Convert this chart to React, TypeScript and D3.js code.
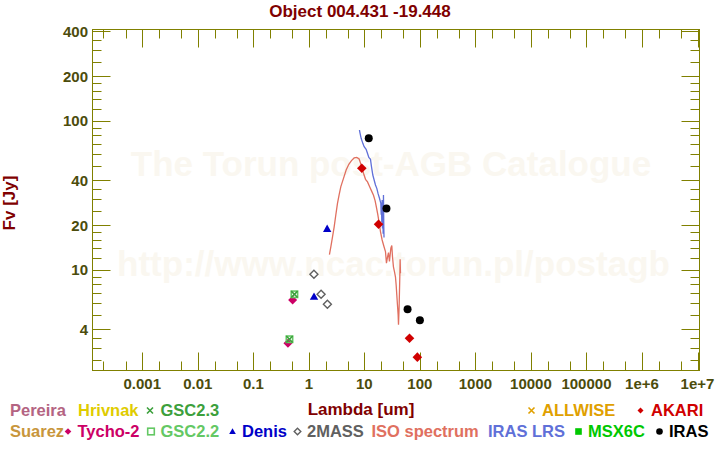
import React from "react";
import * as d3 from "d3";

// ---------- data ----------
const chartTitle = "Object 004.431 -19.448";
const xAxisTitle = "Lambda [um]";
const yAxisTitle = "Fv [Jy]";
const watermarkLines = ["The Torun post-AGB Catalogue", "http://www.ncac.torun.pl/postagb"];

const xTickValues = [0.001, 0.01, 0.1, 1, 10, 100, 1000, 10000, 100000, 1e6, 1e7];
const xTickLabels = ["0.001", "0.01", "0.1", "1", "10", "100", "1000", "10000", "100000", "1e+6", "1e+7"];
const xMinorMultipliers = [2, 5];
const yTickValues = [4, 10, 20, 40, 100, 200, 400];
const yTickLabels = ["4", "10", "20", "40", "100", "200", "400"];
const yMinorValues = [2.5, 3, 3.5, 5, 6, 7, 8, 9, 12, 14, 16, 18, 25, 30, 35, 50, 60, 70, 80, 90, 120, 140, 160, 180, 250, 300, 350];

// ISO spectrum
const isoLambda = [2.35, 2.49, 2.67, 2.86, 3.06, 3.28, 3.51, 3.77, 4.21, 4.7, 5.25, 5.86, 6.55, 7.31, 8.05, 8.75, 9.64, 10.5, 11.4, 12.4, 13.4, 14.6, 15.6, 16.5, 17.5, 18.5, 19.5, 20.9, 22.4, 24.0, 25.0, 26.1, 27.2, 28.3, 30.0, 31.2, 32.1, 33.4, 34.9, 36.3, 37.4, 38.4, 39.5, 40.6, 41.2, 42.3, 43.5, 44.1, 44.7];
const isoFlux = [12.7, 14.3, 16.7, 19.5, 23.4, 28.0, 31.9, 36.3, 41.2, 46.9, 51.2, 54.2, 56.5, 57.0, 55.6, 50.7, 44.6, 40.6, 39.0, 36.3, 34.1, 31.7, 29.2, 26.3, 23.4, 20.6, 18.1, 15.9, 14.5, 13.3, 11.1, 12.2, 13.1, 11.4, 14.0, 14.6, 12.3, 10.5, 9.7, 9.0, 7.9, 6.8, 5.8, 5.0, 4.3, 5.7, 9.0, 11.8, 9.5];

// IRAS LRS spectrum
const lrsLambda = [8.16, 8.3, 8.75, 9.38, 9.91, 10.76, 11.37, 12.03, 12.89, 13.43, 14.2, 15.0, 15.85, 16.76, 17.71, 18.72, 19.79, 20.1, 20.34, 20.6, 20.9, 21.19, 21.5, 21.79, 22.09, 22.39, 22.6];
const lrsFlux = [87, 84, 76.5, 70.8, 67.3, 64.5, 60.7, 57.0, 55.3, 49.4, 43.4, 40.2, 37.2, 35.3, 32.4, 30.3, 28.0, 23.5, 27.0, 21.0, 29.5, 19.0, 27.3, 17.5, 31.9, 19.5, 16.5];

// photometry
const irasLambda = [12, 25, 60, 100];
const irasFlux = [76.6, 25.9, 5.45, 4.6];
const akariLambda = [9, 18, 65, 90];
const akariFlux = [48.2, 20.3, 3.48, 2.6];
const denisLambda = [1.24, 2.14];
const denisFlux = [6.62, 18.9];
const twomassLambda = [1.235, 1.662, 2.159];
const twomassFlux = [9.36, 6.87, 5.89];
const tychoLambda = [0.42, 0.51];
const tychoFlux = [3.22, 6.29];
const gsc22Lambda = [0.448, 0.55];
const gsc22Flux = [3.43, 6.87];
const gsc23Lambda = [0.448, 0.55];
const gsc23Flux = [3.43, 6.87];

// legend
const legendRow1 = ["Pereira", "Hrivnak", "GSC2.3", "ALLWISE", "AKARI"];
const legendRow1Colors = ["#b46482", "#e0cc00", "#3ca03c", "#e0a000", "#d00000"];
const legendRow1Symbols = ["", "", "cross", "cross", "diamond"];
const legendRow2 = ["Suarez", "Tycho-2", "GSC2.2", "Denis", "2MASS", "ISO spectrum", "IRAS LRS", "MSX6C", "IRAS"];
const legendRow2Colors = ["#c8963c", "#cc0066", "#64c864", "#0000c8", "#606060", "#e07060", "#6070d8", "#00c800", "#000000"];
const legendRow2Symbols = ["", "diamond", "square", "triangle", "odiamond", "", "", "fsquare", "circle"];

// ---------- layout ----------
const W = 720;
const H = 450;
const L = 92.5, R = 699.5, T = 29.5, B = 370.5;
const MAJ = 18, MIN = 9;
const row1X = [10, 78, 160.5, 542, 651];
const row2X = [10, 77.5, 160.5, 242, 307, 371.5, 488, 588, 669];
const row1Y = 416;
const row2Y = 437;
const FONT = "'Liberation Sans', Arial, sans-serif";
const OLIVE = "#808000";
const TICKTEXT = "#4c4c0c";
const DARKRED = "#800000";

function Symbol({ type, cx, cy, color, s }: { type: string; cx: number; cy: number; color: string; s: number }) {
  if (type === "cross")
    return (
      <path d={`M${cx - s},${cy - s}L${cx + s},${cy + s}M${cx - s},${cy + s}L${cx + s},${cy - s}`} stroke={color} strokeWidth={1.6} fill="none" />
    );
  if (type === "diamond")
    return <path d={`M${cx},${cy - s}L${cx + s},${cy}L${cx},${cy + s}L${cx - s},${cy}Z`} fill={color} />;
  if (type === "odiamond")
    return <path d={`M${cx},${cy - s}L${cx + s},${cy}L${cx},${cy + s}L${cx - s},${cy}Z`} fill="none" stroke={color} strokeWidth={1.4} />;
  if (type === "square")
    return <rect x={cx - s} y={cy - s} width={2 * s} height={2 * s} fill="none" stroke={color} strokeWidth={1.6} />;
  if (type === "fsquare") return <rect x={cx - s} y={cy - s} width={2 * s} height={2 * s} fill={color} />;
  if (type === "triangle")
    return <path d={`M${cx},${cy - s}L${cx + s},${cy + s * 0.75}L${cx - s},${cy + s * 0.75}Z`} fill={color} />;
  if (type === "circle") return <circle cx={cx} cy={cy} r={s} fill={color} />;
  return null;
}

export default function App() {
  const x = d3.scaleLog().domain([1.27e-4, 1.086e7]).range([L, R]);
  const y = d3.scaleLog().domain([2.116, 411.2]).range([B, T]);

  const line = d3
    .line<number>()
    .x((d) => d);
  const pathOf = (lam: number[], fl: number[]) =>
    d3
      .line<[number, number]>()
      .x((d) => x(d[0]))
      .y((d) => y(d[1]))(lam.map((l, i) => [l, fl[i]] as [number, number])) || "";
  void line;

  const xMinor: number[] = [];
  for (let e = -4; e <= 6; e++) for (const m of xMinorMultipliers) xMinor.push(m * Math.pow(10, e));
  const xMinorIn = xMinor.filter((v) => x(v) > L + 1 && x(v) < R - 1);

  const pts = (lam: number[], fl: number[]) => lam.map((l, i) => [x(l), y(fl[i])]);

  return (
    <svg width={W} height={H} style={{ position: "absolute", left: 0, top: 0, background: "#fff" }} fontFamily={FONT}>
      <rect x={0} y={0} width={W} height={H} fill="#fff" />
      {/* watermark */}
      <text x={391} y={176} textAnchor="middle" fontSize={35} fontWeight="bold" fill="#faf7f0">
        {watermarkLines[0]}
      </text>
      <text x={393.5} y={276} textAnchor="middle" fontSize={35} fontWeight="bold" fill="#faf7f0">
        {watermarkLines[1]}
      </text>

      {/* title */}
      <text x={360} y={17} textAnchor="middle" fontSize={17} fontWeight="bold" fill={DARKRED}>
        {chartTitle}
      </text>

      {/* frame */}
      <rect x={L} y={T} width={R - L} height={B - T} fill="none" stroke={OLIVE} strokeWidth={1} />
      {/* x ticks */}
      {xTickValues.map((v, i) => {
        const px = Math.round(x(v)) + 0.5;
        return (
          <g key={"xt" + i}>
            <line x1={px} x2={px} y1={B} y2={B - MAJ} stroke={OLIVE} />
            <line x1={px} x2={px} y1={T} y2={T + MAJ} stroke={OLIVE} />
            <text x={x(v)} y={388.5} textAnchor="middle" fontSize={15} fontWeight="bold" fill={TICKTEXT}>
              {xTickLabels[i]}
            </text>
          </g>
        );
      })}
      {xMinorIn.map((v, i) => {
        const px = Math.round(x(v)) + 0.5;
        return (
          <g key={"xm" + i}>
            <line x1={px} x2={px} y1={B} y2={B - MIN} stroke={OLIVE} />
            <line x1={px} x2={px} y1={T} y2={T + MIN} stroke={OLIVE} />
          </g>
        );
      })}
      {/* y ticks */}
      {yTickValues.map((v, i) => {
        const py = Math.round(y(v)) + 0.5;
        return (
          <g key={"yt" + i}>
            <line x1={L} x2={L + MAJ} y1={py} y2={py} stroke={OLIVE} />
            <line x1={R} x2={R - MAJ} y1={py} y2={py} stroke={OLIVE} />
            <text x={88} y={y(v)} dy="0.36em" textAnchor="end" fontSize={15} fontWeight="bold" fill={TICKTEXT}>
              {yTickLabels[i]}
            </text>
          </g>
        );
      })}
      {yMinorValues.map((v, i) => {
        const py = Math.round(y(v)) + 0.5;
        return (
          <g key={"ym" + i}>
            <line x1={L} x2={L + MIN} y1={py} y2={py} stroke={OLIVE} />
            <line x1={R} x2={R - MIN} y1={py} y2={py} stroke={OLIVE} />
          </g>
        );
      })}

      {/* axis titles */}
      <text x={361} y={415} textAnchor="middle" fontSize={17} fontWeight="bold" fill={DARKRED}>
        {xAxisTitle}
      </text>
      <text transform={`translate(15,203) rotate(-90)`} textAnchor="middle" fontSize={17} fontWeight="bold" fill={DARKRED}>
        {yAxisTitle}
      </text>

      {/* spectra */}
      <path d={pathOf(isoLambda, isoFlux)} fill="none" stroke="#e07060" strokeWidth={1.3} />
      <path d={pathOf(lrsLambda, lrsFlux)} fill="none" stroke="#6070d8" strokeWidth={1.3} />

      {/* photometry */}
      {pts(tychoLambda, tychoFlux).map((p, i) => (
        <Symbol key={"ty" + i} type="diamond" cx={p[0]} cy={p[1]} color="#cc0066" s={4.5} />
      ))}
      {pts(gsc22Lambda, gsc22Flux).map((p, i) => (
        <Symbol key={"g2" + i} type="square" cx={p[0]} cy={p[1]} color="#64c864" s={3.2} />
      ))}
      {pts(gsc23Lambda, gsc23Flux).map((p, i) => (
        <Symbol key={"g3" + i} type="cross" cx={p[0]} cy={p[1]} color="#3ca03c" s={3.2} />
      ))}
      {pts(twomassLambda, twomassFlux).map((p, i) => (
        <Symbol key={"tm" + i} type="odiamond" cx={p[0]} cy={p[1]} color="#606060" s={4} />
      ))}
      {pts(denisLambda, denisFlux).map((p, i) => (
        <Symbol key={"de" + i} type="triangle" cx={p[0]} cy={p[1]} color="#0000c8" s={4.2} />
      ))}
      {pts(akariLambda, akariFlux).map((p, i) => (
        <Symbol key={"ak" + i} type="diamond" cx={p[0]} cy={p[1]} color="#d00000" s={4.8} />
      ))}
      {pts(irasLambda, irasFlux).map((p, i) => (
        <Symbol key={"ir" + i} type="circle" cx={p[0]} cy={p[1]} color="#000000" s={4} />
      ))}

      {/* legend */}
      {legendRow1.map((name, i) => (
        <g key={"l1" + i}>
          {legendRow1Symbols[i] && (
            <Symbol type={legendRow1Symbols[i]} cx={row1X[i] - 10.5} cy={row1Y - 5.5} color={legendRow1Colors[i]} s={3} />
          )}
          <text x={row1X[i]} y={row1Y} fontSize={16.5} fontWeight="bold" fill={legendRow1Colors[i]}>
            {name}
          </text>
        </g>
      ))}
      {legendRow2.map((name, i) => (
        <g key={"l2" + i}>
          {legendRow2Symbols[i] && (
            <Symbol type={legendRow2Symbols[i]} cx={row2X[i] - 9.5} cy={row2Y - 5.5} color={legendRow2Colors[i]} s={3.3} />
          )}
          <text x={row2X[i]} y={row2Y} fontSize={16.5} fontWeight="bold" fill={legendRow2Colors[i]}>
            {name}
          </text>
        </g>
      ))}
    </svg>
  );
}
